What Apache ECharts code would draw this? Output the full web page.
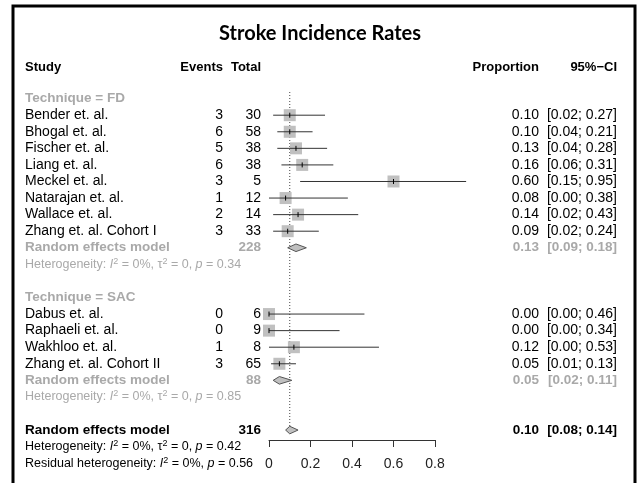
<!DOCTYPE html>
<html><head><meta charset="utf-8">
<script src="https://cdn.jsdelivr.net/npm/echarts@6/dist/echarts.min.js"></script>
<style>html,body{margin:0;padding:0;background:#fff}#c{width:640px;height:483px}</style>
</head><body><div id="c"></div>
<script>
// ---------------- data ----------------
const titleText = 'Stroke Incidence Rates';
const columnHeaders = ['Study', 'Events', 'Total', 'Proportion', '95%\u2212CI'];
const groupNames = ['FD', 'SAC'];
const studyNames = ['Bender et. al.', 'Bhogal et. al.', 'Fischer et. al.', 'Liang et. al.', 'Meckel et. al.', 'Natarajan et. al.', 'Wallace et. al.', 'Zhang et. al. Cohort I',
  'Dabus et. al.', 'Raphaeli et. al.', 'Wakhloo et. al.', 'Zhang et. al. Cohort II'];
const studyGroup = ['FD', 'FD', 'FD', 'FD', 'FD', 'FD', 'FD', 'FD', 'SAC', 'SAC', 'SAC', 'SAC'];
const events = [3, 6, 5, 6, 3, 1, 2, 3, 0, 0, 1, 3];
const totals = [30, 58, 38, 38, 5, 12, 14, 33, 6, 9, 8, 65];
const proportion = [0.10, 0.10, 0.13, 0.16, 0.60, 0.08, 0.14, 0.09, 0.00, 0.00, 0.12, 0.05];
const ciLower = [0.02, 0.04, 0.04, 0.06, 0.15, 0.00, 0.02, 0.02, 0.00, 0.00, 0.00, 0.01];
const ciUpper = [0.27, 0.21, 0.28, 0.31, 0.95, 0.38, 0.43, 0.24, 0.46, 0.34, 0.53, 0.13];
const subgroupTotal = [228, 88];
const subgroupEst = [0.13, 0.05];
const subgroupLower = [0.09, 0.02];
const subgroupUpper = [0.18, 0.11];
const subgroupI2 = ['0%', '0%'];
const subgroupTau2 = ['0', '0'];
const subgroupP = ['0.34', '0.85'];
const overallTotal = 316;
const overallEst = 0.10;
const overallLower = 0.08;
const overallUpper = 0.14;
const overallI2 = '0%';
const overallTau2 = '0';
const overallP = '0.42';
const residualI2 = '0%';
const residualP = '0.56';
const xTicks = [0, 0.2, 0.4, 0.6, 0.8];

// ---------------- layout of rows ----------------
const hetText = (label, i2, tau2, p) =>
  '{n|' + label + ': }{i|I}{s|2}{n| = ' + i2 + ', ' + (tau2 !== null ? '\u03c4}{s|2}{n| = ' + tau2 + ', ' : '') + '}{i|p}{n| = ' + p + '}';
const rows = [];
let r = 0;
rows.push({row: -1.9, kind: 'colhead'});
groupNames.forEach((g, gi) => {
  rows.push({row: r++, kind: 'grouphead', text: 'Technique = ' + g});
  studyNames.forEach((n, i) => {
    if (studyGroup[i] !== g) return;
    rows.push({row: r++, kind: 'study', name: n, ev: events[i], tot: totals[i], est: proportion[i], lo: ciLower[i], hi: ciUpper[i]});
  });
  rows.push({row: r++, kind: 'subsum', tot: subgroupTotal[gi], est: subgroupEst[gi], lo: subgroupLower[gi], hi: subgroupUpper[gi]});
  rows.push({row: r++, kind: 'het', color: '#a9a9a9', text: hetText('Heterogeneity', subgroupI2[gi], subgroupTau2[gi], subgroupP[gi])});
  r++;
});
rows.push({row: r++, kind: 'overall', tot: overallTotal, est: overallEst, lo: overallLower, hi: overallUpper});
rows.push({row: r++, kind: 'het', color: '#000', text: hetText('Heterogeneity', overallI2, overallTau2, overallP)});
rows.push({row: r++, kind: 'het', color: '#000', text: hetText('Residual heterogeneity', residualI2, null, residualP)});
const overallRow = rows.find(o => o.kind === 'overall').row;

// ---------------- rendering ----------------
const FONT = 'Liberation Sans, Arial, sans-serif';
const COL = {name: 25, ev: 223, tot: 261, prop: 539, ci: 617};
const GRAY = '#a9a9a9';
const FS = 14, FSB = 13.5, FSH = 12.5;
const fmt = v => v.toFixed(2);

function txt(x, y, text, align, color, size, weight, rich) {
  const style = {text: text, fill: color, fontSize: size, fontFamily: FONT, fontWeight: weight || 'normal',
    align: align, verticalAlign: 'middle', textAlign: align, textVerticalAlign: 'middle'};
  if (rich) style.rich = rich;
  return {type: 'text', x: x, y: y, style: style};
}

function renderItem(params, api) {
  const o = rows[params.dataIndex];
  const y = api.coord([0, o.row])[1];
  const X = v => api.coord([v, o.row])[0];
  const ch = [];
  if (o.kind === 'colhead') {
    const hx = [COL.name, COL.ev, COL.tot, COL.prop, COL.ci];
    const al = ['left', 'right', 'right', 'right', 'right'];
    columnHeaders.forEach((h, i) => ch.push(txt(hx[i], y, h, al[i], '#000', 13, 'bold')));
  } else if (o.kind === 'grouphead') {
    ch.push(txt(COL.name, y, o.text, 'left', GRAY, FSB, 'bold'));
  } else if (o.kind === 'study') {
    ch.push(txt(COL.name, y, o.name, 'left', '#000', FS));
    ch.push(txt(COL.ev, y, String(o.ev), 'right', '#000', FS));
    ch.push(txt(COL.tot, y, String(o.tot), 'right', '#000', FS));
    ch.push(txt(COL.prop, y, fmt(o.est), 'right', '#000', FS));
    ch.push(txt(COL.ci, y, '[' + fmt(o.lo) + '; ' + fmt(o.hi) + ']', 'right', '#000', FS));
    const cx = X(o.est);
    ch.push({type: 'rect', shape: {x: cx - 6, y: y - 6, width: 12, height: 12}, style: {fill: '#c0c0c0'}});
    ch.push({type: 'line', shape: {x1: X(o.lo), y1: y, x2: X(o.hi), y2: y}, style: {stroke: '#333', lineWidth: 1}});
    ch.push({type: 'line', shape: {x1: cx, y1: y - 2.5, x2: cx, y2: y + 2.5}, style: {stroke: '#000', lineWidth: 1}});
  } else if (o.kind === 'subsum' || o.kind === 'overall') {
    const c = o.kind === 'subsum' ? GRAY : '#000';
    ch.push(txt(COL.name, y, 'Random effects model', 'left', c, FSB, 'bold'));
    ch.push(txt(COL.tot, y, String(o.tot), 'right', c, FSB, 'bold'));
    ch.push(txt(COL.prop, y, fmt(o.est), 'right', c, FSB, 'bold'));
    ch.push(txt(COL.ci, y, '[' + fmt(o.lo) + '; ' + fmt(o.hi) + ']', 'right', c, FSB, 'bold'));
    ch.push({type: 'polygon', shape: {points: [[X(o.lo), y], [X(o.est), y - 3.8], [X(o.hi), y], [X(o.est), y + 3.8]]},
      style: {fill: '#c0c0c0', stroke: '#555', lineWidth: 1}});
  } else if (o.kind === 'het') {
    const rich = {
      n: {fontSize: FSH, fontFamily: FONT, fill: o.color, lineHeight: 15},
      i: {fontSize: FSH, fontFamily: FONT, fill: o.color, fontStyle: 'italic', lineHeight: 15},
      s: {fontSize: 9, fontFamily: FONT, fill: o.color, verticalAlign: 'top', lineHeight: 15, padding: [0, 0, 0, 0]}
    };
    ch.push(txt(COL.name, y, o.text, 'left', o.color, FSH, 'normal', rich));
  }
  return {type: 'group', children: ch};
}

const chart = echarts.init(document.getElementById('c'), null, {renderer: 'canvas'});
chart.setOption({
  animation: false,
  backgroundColor: '#fff',
  title: {text: titleText, left: 'center', top: 19,
    textStyle: {fontFamily: 'Lato, sans-serif', fontWeight: 'bold', fontSize: 20, color: '#000'}},
  graphic: [{type: 'rect', shape: {x: 13, y: 6, width: 622, height: 520}, style: {fill: 'none', stroke: '#000', lineWidth: 3}, silent: true}],
  grid: {left: 269, width: 166, top: 92, bottom: 43},
  xAxis: {type: 'value', position: 'bottom', min: xTicks[0], max: xTicks[xTicks.length - 1], interval: 0.2,
    splitLine: {show: false},
    axisLine: {show: true, onZero: false, lineStyle: {color: '#333', width: 1}},
    axisTick: {show: true, length: 7, lineStyle: {color: '#333'}},
    axisLabel: {margin: 17, fontSize: 14, fontFamily: FONT, color: '#222',
      formatter: v => (Math.abs(v) < 1e-9 ? '0' : String(+v.toFixed(1)))}},
  yAxis: {type: 'value', inverse: true, min: -0.4, max: 20.6, show: false},
  series: [
    {type: 'line', data: [[overallEst, -0.4], [overallEst, overallRow + 0.2]], symbol: 'none', silent: true,
      lineStyle: {color: '#444', width: 1, type: [1, 2]}, z: 1},
    {type: 'custom', renderItem: renderItem, clip: false, data: rows.map(o => [0, o.row]), z: 2, silent: true}
  ]
});
</script></body></html>
